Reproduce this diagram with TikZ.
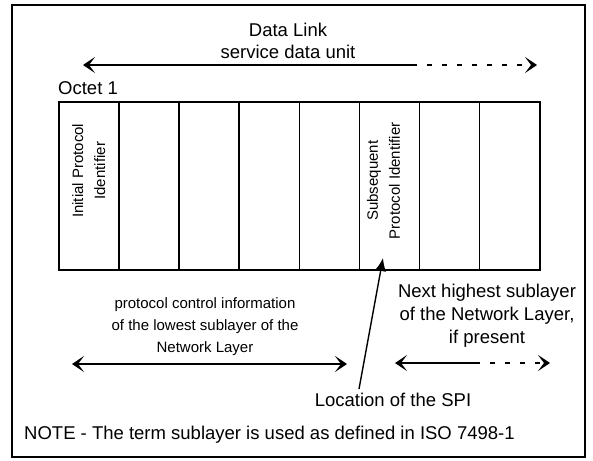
\documentclass[tikz,border=0pt]{standalone}
\usepackage{fontspec}
\setmainfont{Liberation Sans}
\usetikzlibrary{arrows.meta}

\begin{document}
\begin{tikzpicture}[x=1pt,y=-1pt,
  >={Stealth[length=12pt,width=16pt,inset=6pt]},
  arr/.style={line width=1.4pt},
  cell/.style={draw,line width=1.5pt,minimum width=60.125pt,minimum height=168pt,
    inner sep=0pt,anchor=north west},
  lbl/.style={font=\fontsize{18.5}{23}\selectfont,inner sep=0pt,align=center},
  small/.style={font=\fontsize{15}{22}\selectfont,inner sep=0pt,align=center}]
  \useasboundingbox (0,0) rectangle (593,460);
  % Frame
  \draw[line width=1.5pt] (12,5) rectangle (585,457);
  % Data Link service data unit
  \node[lbl] (dl) at (288,30) {Data Link};
  \node[lbl] (sdu) at (288,52) {service data unit};
  \coordinate (sduL) at (83,65);
  \coordinate (sduM) at (412,65);
  \coordinate (sduR) at (537,65);
  \draw[arr,<-] (sduL) -- (sduM);
  \draw[arr,dash pattern=on 5pt off 10pt,->] (sduM) -- (sduR);
  % Octets
  \node[lbl,anchor=west] (oct) at (58,88) {Octet 1};
  \foreach \i in {1,...,8}
    \node[cell] (c\i) at ({58+60.125*(\i-1)},101) {};
  \node[small,rotate=90] (ipi) at ([yshift=15pt]c1.center) {Initial Protocol\\Identifier};
  \node[small,rotate=90] (spid) at ([xshift=-6pt,yshift=5pt]c6.center) {Subsequent\\Protocol Identifier};
  % Lowest sublayer PCI
  \node[small] (pci) at (205,327) {protocol control information\\of the lowest sublayer of the\\Network Layer};
  \coordinate (pciL) at (72,364);
  \coordinate (pciR) at (347,364);
  \draw[arr,<->] (pciL) -- (pciR);
  % Next highest sublayer
  \node[lbl] (nhs) at (487,316) {Next highest sublayer\\of the Network Layer,\\if present};
  \coordinate (nhsL) at (395,363);
  \coordinate (nhsM) at (475,363);
  \coordinate (nhsR) at (550,363);
  \draw[arr,<-] (nhsL) -- (nhsM);
  \draw[arr,dash pattern=on 5pt off 10pt,->] (nhsM) -- (nhsR);
  % SPI pointer
  \node[lbl] (spi) at (393,400) {Location of the SPI};
  \coordinate (spifoot) at (359,389);
  \coordinate (spitip) at (383,258);
  \draw[line width=1.4pt,-{Latex[length=13pt,width=11pt]}] (spifoot) -- (spitip);
  % Note
  \node[lbl,anchor=west] (note) at (24,435) {NOTE - The term sublayer is used as defined in ISO 7498-1};
\end{tikzpicture}
\end{document}
